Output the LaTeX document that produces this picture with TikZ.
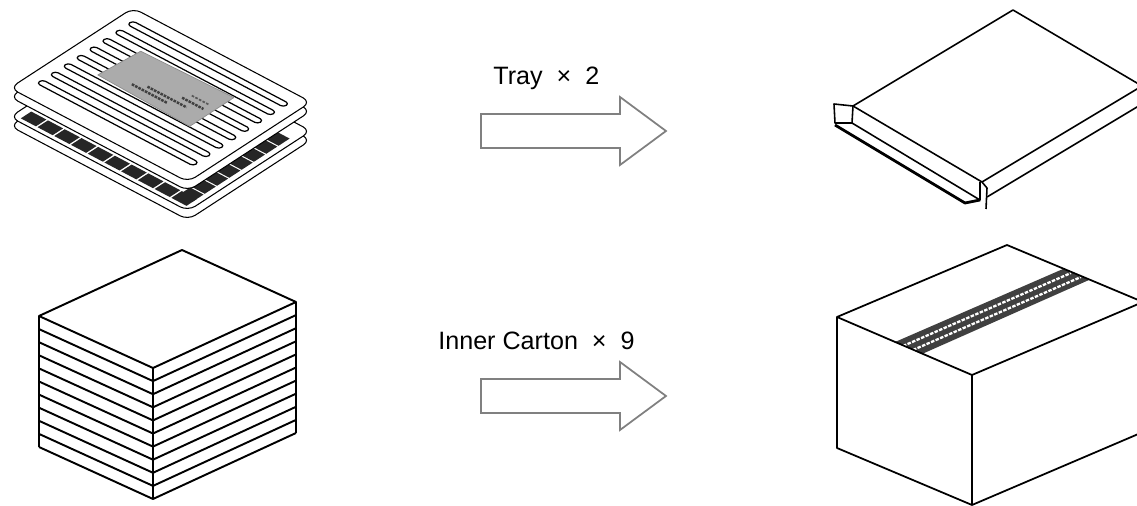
\documentclass[tikz,border=0pt]{standalone}
\usepackage{fontspec}
\setmainfont{Liberation Sans}
\tikzset{
plate edge/.style={rounded corners=5pt, fill=white, line width=0.6pt},
lbl/.style={font=\fontsize{14.3}{16}\selectfont, inner sep=0pt, anchor=base west},
plate/.pic={
  \draw[plate edge, yshift=-0.18cm] (0,0) -- (1,0) -- (1,1) -- (0,1) -- cycle;
  \draw[plate edge] (0,0) -- (1,0) -- (1,1) -- (0,1) -- cycle;
  },
fatarrow/.pic={
  \draw[draw=black!50, line width=1pt, line join=miter] (0,-17) -- (139,-17) -- (139,-34) -- (185,0) -- (139,34) -- (139,17) -- (0,17) -- cycle;
  }
}
\begin{document}
\begin{tikzpicture}[x=0.02cm, y=-0.02cm, line join=round]
\useasboundingbox (0,0) rectangle (1137,506);

% tray, lower plate with chips
\begin{scope}[shift={(10,117)}, x={(3.56cm,-1.88cm)}, y={(2.46cm,1.6cm)}]
  \pic {plate};
  \foreach \c in {0,...,9}
    \fill[black!85] ({0.04+0.094*\c},0.03) -- ++(0.085,0) -- ++(0,0.085) -- ++(-0.085,0) -- cycle;
  \foreach \c in {0,...,7}
    \fill[black!85] (0.895,{0.08+0.1*\c}) -- ++(0.075,0) -- ++(0,0.09) -- ++(-0.075,0) -- cycle;
\end{scope}
% tray, upper plate with slots and label
\begin{scope}[shift={(10,88)}, x={(3.56cm,-1.88cm)}, y={(2.46cm,1.6cm)}]
  \pic {plate};
  \foreach \s in {0,...,7}
    \draw[rounded corners=2pt, line width=0.7pt] (0.06,{0.13+0.105*\s}) -- (0.94,{0.13+0.105*\s}) -- (0.94,{0.175+0.105*\s}) -- (0.06,{0.175+0.105*\s}) -- cycle;
  \draw[fill=black!33, draw=black!45] (0.21,0.41) -- (0.74,0.39) -- (0.74,0.75) -- (0.23,0.73) -- cycle;
  \draw[black!75, line width=1.4pt, dash pattern=on 1.5pt off 0.6pt] (0.36,0.47) -- (0.56,0.47);
  \draw[black!75, line width=1.4pt, dash pattern=on 1.5pt off 0.6pt] (0.42,0.51) -- (0.64,0.51);
  \draw[black!75, line width=1.4pt, dash pattern=on 1.5pt off 0.6pt] (0.58,0.56) -- (0.70,0.56);
  \draw[black!65, line width=1pt, dash pattern=on 1.5pt off 0.8pt] (0.60,0.61) -- (0.70,0.61);
\end{scope}

% stack of trays
\begin{scope}[line width=1.1pt]
  \draw (182,250) -- (39,316) -- (153,368) -- (296,302) -- cycle;
  \foreach \k in {1,...,10}
    \draw (39,{316+13.1*\k}) -- (153,{368+13.1*\k}) -- (296,{302+13.1*\k});
  \draw (39,316) -- (39,447);
  \draw (153,368) -- (153,499);
  \draw (296,302) -- (296,433);
\end{scope}

% arrows and labels
\pic at (481,131) {fatarrow};
\pic at (481,396) {fatarrow};
\node[lbl] (traytext) at (493,85) {Tray~~×~~2};
\node[lbl] (cartontext) at (438,350) {Inner Carton~~×~~9};

% packed tray
\begin{scope}[line width=0.9pt]
  \draw (1013,10) -- (853,106) -- (982,182) -- (1142,86) -- cycle;
  \draw (834,104) -- (853,106) -- (852,123) -- (835,123) -- cycle;
  \draw (852,123) -- (980,200) -- (980,182);
  \draw[line width=1.6pt] (835,125) -- (965,203) -- (980,200);
  \draw (982,182) -- (987,188) -- (986,209);
  \draw (987,197) -- (1142,104);
\end{scope}

% carton
\begin{scope}[line width=1pt]
  \fill[black!75] (895,342) -- (1063,269) -- (1089,280) -- (922,354) -- cycle;
  \draw[white, line width=1.3pt, dash pattern=on 2pt off 0.8pt] (903,346) -- (1071,273);
  \draw[white, line width=1.3pt, dash pattern=on 2pt off 0.8pt] (913,350) -- (1081,277);
  \draw (1007,245) -- (837,317) -- (972,375) -- (1143,302) -- cycle;
  \draw (837,317) -- (837,448) -- (972,505) -- (1143,432);
  \draw (972,375) -- (972,505);
\end{scope}
\end{tikzpicture}
\end{document}
